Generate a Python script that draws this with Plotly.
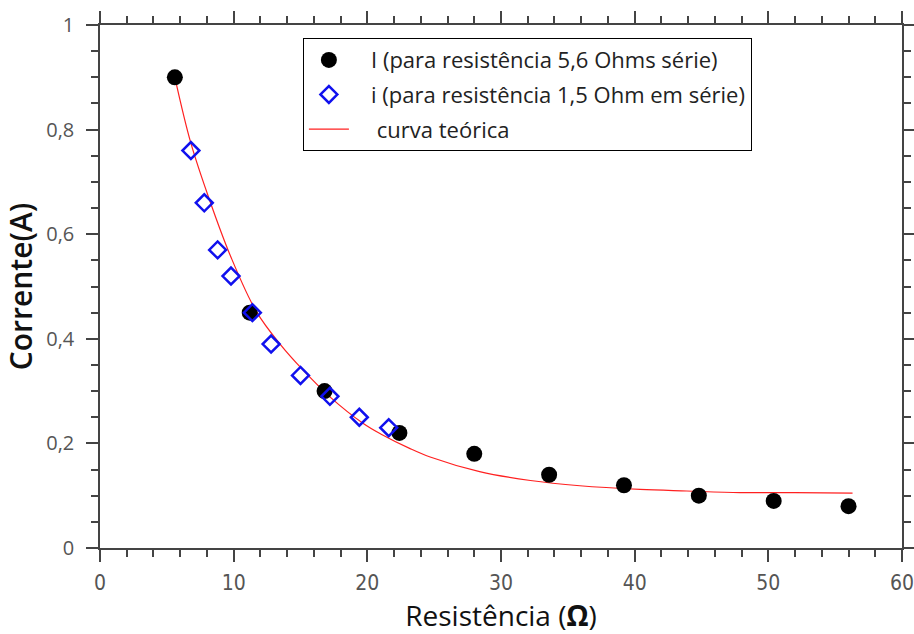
import plotly.graph_objects as go

# Series I (5,6 Ohm in series)
r_big = [5.6, 11.2, 16.8, 22.4, 28.0, 33.6, 39.2, 44.8, 50.4, 56.0]
i_big = [0.90, 0.45, 0.30, 0.22, 0.18, 0.14, 0.12, 0.10, 0.09, 0.08]

# Series i (1,5 Ohm in series)
r_small = [6.8, 7.8, 8.8, 9.8, 11.4, 12.8, 15.0, 17.2, 19.4, 21.6]
i_small = [0.76, 0.66, 0.57, 0.52, 0.45, 0.39, 0.33, 0.29, 0.25, 0.23]

# Theoretical curve
r_curve = [5.6, 6.8, 8.2, 9.8, 11.7, 13.5, 15.2, 17.2, 19.7, 21.0, 23.2, 24.7,
           28.4, 32.2, 35.9, 40.4, 43.9, 47.9, 52.0, 56.3]
i_curve = [0.90, 0.774, 0.665, 0.556, 0.452, 0.389, 0.340, 0.289, 0.238, 0.218,
           0.190, 0.174, 0.146, 0.129, 0.119, 0.112, 0.109, 0.106, 0.106, 0.105]

names = ["   I (para resistência 5,6 Ohms série)",
         "   i (para resistência 1,5 Ohm em série)",
         "    curva teórica"]

fig = go.Figure()
fig.add_trace(go.Scatter(
    x=r_curve, y=i_curve, mode="lines", name=names[2], legendrank=3,
    legendgroup="c", line=dict(color="#ff2020", width=1.2, shape="spline")))
fig.add_trace(go.Scatter(
    x=r_big, y=i_big, mode="markers", name=names[0], legendrank=1,
    legendgroup="a", marker=dict(symbol="circle", size=16, color="black",
                                 line=dict(width=0))))
fig.add_trace(go.Scatter(
    x=r_small, y=i_small, mode="markers", name=names[1], legendrank=2,
    legendgroup="b", marker=dict(symbol="diamond-open", size=13, color="#1010ee",
                                 line=dict(width=2.5, color="#1010ee"))))

axis_common = dict(
    showline=True, linecolor="#444", linewidth=1.5, mirror="ticks",
    ticks="outside", ticklen=12, tickwidth=1.5, tickcolor="#444",
    showgrid=False, zeroline=False, automargin=False,
    ticklabeloverflow="allow",
)

fig.update_xaxes(
    **axis_common, range=[0, 60], dtick=10, tick0=0,
    minor=dict(ticks="outside", ticklen=7, dtick=2, tickcolor="#444", tickwidth=1.5),
    tickfont=dict(family="Liberation Sans Narrow, DejaVu Sans Condensed, Open Sans",
                  size=21, color="#555"),
    ticklabelstandoff=3,
    title=dict(text="Resistência (<b>Ω</b>)",
               font=dict(family="Open Sans", size=28, color="#111")),
)
fig.update_yaxes(
    **axis_common, range=[0, 1], dtick=0.2, tick0=0,
    minor=dict(ticks="outside", ticklen=7, dtick=0.05, tickcolor="#444", tickwidth=1.5),
    tickfont=dict(family="Open Sans", size=20, color="#555"),
    ticklabelstandoff=8,
    title=dict(text="Corrente(A)",
               font=dict(family="Open Sans", size=30, color="#111", weight=600)),
)

fig.update_layout(
    width=914, height=634, separators=",.",
    margin=dict(l=100, r=12, t=25, b=86),
    plot_bgcolor="white", paper_bgcolor="white",
    legend=dict(x=0.253, y=0.975, xanchor="left", yanchor="top",
                bgcolor="white", bordercolor="black", borderwidth=1,
                font=dict(family="Open Sans", size=22, color="#222"),
                traceorder="grouped", tracegroupgap=3, itemwidth=40),
)

fig.write_html("out.html")
